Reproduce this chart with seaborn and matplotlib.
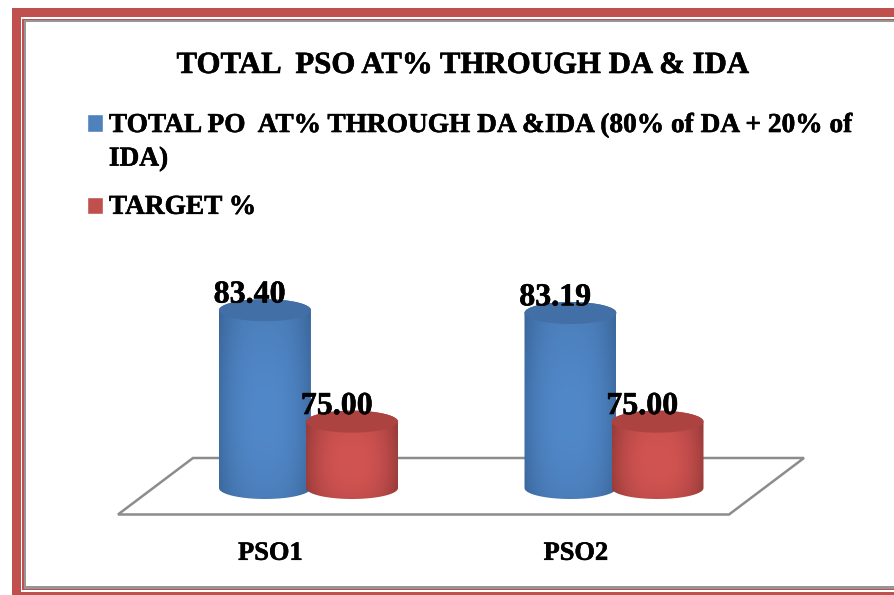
import numpy as np
import pandas as pd
import seaborn as sns
import matplotlib
matplotlib.use('Agg')
import matplotlib.pyplot as plt
import matplotlib.patheffects as pe
from matplotlib.colors import to_rgb
from matplotlib.patches import Ellipse, Polygon, Rectangle
from matplotlib.legend_handler import HandlerPatch

categories = ['PSO1', 'PSO2']
series_names = ['TOTAL PO  AT% THROUGH DA &IDA (80% of DA + 20% of\nIDA)', 'TARGET %']
total_po = [83.40, 83.19]
target = [75.00, 75.00]
title_text = 'TOTAL  PSO AT% THROUGH DA & IDA'

W, H = 894, 595
FONT = 'Liberation Serif'
BLUE = '#4f81bd'
RED = '#c0504d'
BASE = 70.0
PX_X = 305.5    # pixels per category
PX_Y = 13.27    # pixels per percent

sns.set_theme(style='white')
plt.rcParams['font.family'] = [FONT, 'DejaVu Sans']
heavy = [pe.withStroke(linewidth=0.4, foreground='black')]

df = pd.DataFrame({
    'cat': categories * 2,
    'series': [series_names[0]] * 2 + [series_names[1]] * 2,
    'val': total_po + target,
})

fig = plt.figure(figsize=(W / 100, H / 100), dpi=100, facecolor='white')
ax = fig.add_axes([0, (H - 530) / H, 1, 530 / H])
ax.patch.set_visible(False)

sns.barplot(data=df, x='cat', y='val', hue='series', hue_order=series_names,
            palette=[BLUE, RED], width=0.57, gap=-0.056, saturation=1,
            errorbar=None, ax=ax)


def fig_xy(points):
    return [(x / W, 1 - y / H) for x, y in points]


def cylinder(bar, z, edge, mid, cap):
    # turn a flat seaborn bar into a shaded cylinder
    value = bar.get_height()
    bar.set_y(BASE)
    bar.set_height(value - BASE)
    bar.set_visible(False)
    x0 = bar.get_x()
    w = bar.get_width()
    cx = x0 + w / 2
    ry = 11.0 / PX_Y

    t = np.linspace(0, np.pi, 60)
    low = np.c_[cx - w / 2 * np.cos(t), BASE - ry * np.sin(t)]
    top = np.c_[cx + w / 2 * np.cos(t), value + ry * np.sin(t)]
    clip = Polygon(np.r_[low, top], transform=ax.transData)

    u = np.linspace(-1, 1, 120)
    v = np.linspace(1, 0, 160)
    across = (1 - np.abs(u) ** 2.6)[None, :, None]
    along = (0.92 + 0.08 * np.sin(np.pi * v ** 0.8))[:, None, None]
    img = (np.array(edge) + (np.array(mid) - np.array(edge)) * across) * along
    ax.imshow(np.clip(img, 0, 1), extent=[x0, x0 + w, BASE - ry, value + ry],
              aspect='auto', origin='upper', zorder=z, clip_path=clip)
    ax.add_patch(Ellipse((cx, value), w, 2 * ry, facecolor=cap, edgecolor='none', zorder=z + 0.1))


blue_shade = (to_rgb('#3f6ea6'), to_rgb('#5188c9'), '#416fa6')
red_shade = (to_rgb('#9f3e3c'), to_rgb('#d25452'), '#ac4341')

for k, bars in enumerate(ax.containers):
    shade = blue_shade if k == 0 else red_shade
    for bar in bars:
        cylinder(bar, 3 + k, *shade)
        ax.annotate(f'{bar.get_y() + bar.get_height():.2f}',
                    (bar.get_x() + bar.get_width() / 2, bar.get_y() + bar.get_height()),
                    xytext=(-11, 5.5), textcoords='offset points', ha='center', va='baseline',
                    fontsize=23, fontweight='bold', color='black', zorder=6, path_effects=heavy)

ax.set_xlim(-308.5 / PX_X, (W - 308.5) / PX_X)
ax.set_ylim(BASE - 42 / PX_Y, BASE + 488 / PX_Y)
ax.set_xlabel('')
ax.set_ylabel('')
ax.set_yticks([])
ax.set_xticks([-0.125, 0.875], labels=categories)
ax.tick_params(axis='x', length=0, pad=8.5, labelsize=19)
for lab in ax.get_xticklabels():
    lab.set_fontweight('bold')
    lab.set_color('black')
    lab.set_path_effects(heavy)
sns.despine(ax=ax, left=True, bottom=True)

# floor of the 3D chart
floor = Polygon(fig_xy([(118, 514.5), (729, 514.5), (804, 458), (193, 458)]), closed=True,
                transform=fig.transFigure, facecolor='none', edgecolor='#8c8c8c', linewidth=1.8, zorder=1)
ax.add_patch(floor)

ax.text(463 / W, 1 - 73 / H, title_text, transform=fig.transFigure, ha='center', va='baseline',
        fontsize=22.2, fontweight='bold', color='black', path_effects=heavy)


# handle sits beside the first line of a wrapped label
def blue_handle(legend, orig_handle, xdescent, ydescent, width, height, fontsize):
    return Rectangle((-xdescent, -ydescent + 13.7), width, height)


def red_handle(legend, orig_handle, xdescent, ydescent, width, height, fontsize):
    return Rectangle((-xdescent, -ydescent - 0.8), width, height)


old = ax.get_legend()
handles = old.legend_handles
leg = ax.legend(handles, series_names, loc='upper left',
                bbox_to_anchor=(87 / W, 1 - 113 / H), bbox_transform=fig.transFigure,
                frameon=False, borderpad=0, borderaxespad=0, labelspacing=0.85,
                handlelength=0.6, handleheight=0.6, handletextpad=0.2,
                prop={'family': FONT, 'weight': 'bold', 'size': 19.7},
                handler_map={handles[0]: HandlerPatch(patch_func=blue_handle),
                             handles[1]: HandlerPatch(patch_func=red_handle)})
for t in leg.get_texts():
    t.set_linespacing(1.45)
    t.set_color('black')
    t.set_path_effects(heavy)


# page border
def band(x0, y0, x1, y1, color):
    fig.add_artist(Rectangle((x0 / W, 1 - y1 / H), (x1 - x0) / W, (y1 - y0) / H,
                             transform=fig.transFigure, facecolor=color, edgecolor='none', zorder=-1))


band(12, 8, W, 595, '#c0504d')
band(21, 17, W, 592, 'white')
band(22, 19, W, 590, '#c0504d')
band(24, 20, W, 589, '#969696')
band(25.5, 22, W, 586, 'white')

fig.savefig('out.png', dpi=100)
